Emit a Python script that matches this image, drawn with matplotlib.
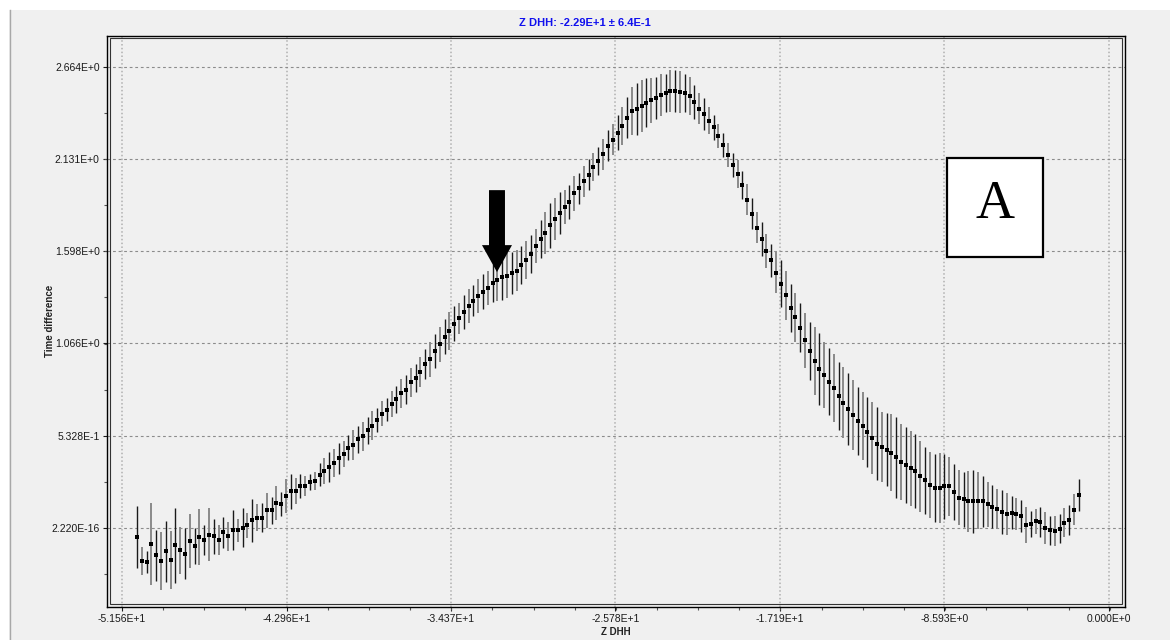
import numpy as np
import matplotlib
matplotlib.use('Agg')
import matplotlib.pyplot as plt
from matplotlib.patches import Rectangle
from matplotlib.lines import Line2D
from matplotlib.ticker import FixedLocator, AutoMinorLocator

plt.rcParams['font.family'] = ['Liberation Sans', 'DejaVu Sans']

# Z DHH sampling grid (regular steps between first and last point)
z_first, z_last, n_pts = -50.78, -1.57, 197
z = np.linspace(z_first, z_last, n_pts)

time_diff = [
    -0.052, -0.190, -0.196, -0.094, -0.158, -0.190, -0.135, -0.183, -0.100, -0.129,
    -0.148, -0.073, -0.104, -0.052, -0.069, -0.038, -0.048, -0.069, -0.025, -0.048,
    -0.012, -0.012, 0.002, 0.015, 0.046, 0.060, 0.060, 0.102, 0.102, 0.146,
    0.140, 0.183, 0.212, 0.215, 0.244, 0.244, 0.265, 0.273, 0.308, 0.331,
    0.354, 0.375, 0.402, 0.427, 0.464, 0.481, 0.512, 0.529, 0.564, 0.590,
    0.625, 0.660, 0.683, 0.719, 0.744, 0.779, 0.800, 0.841, 0.866, 0.902,
    0.946, 0.975, 1.023, 1.060,
    1.106, 1.137, 1.181, 1.212, 1.247, 1.283, 1.312, 1.339, 1.364, 1.387,
    1.416, 1.430, 1.449, 1.456, 1.474, 1.487, 1.518, 1.549, 1.583, 1.628,
    1.668, 1.703, 1.747, 1.785, 1.820, 1.853, 1.883, 1.932, 1.962, 2.001,
    2.041, 2.084, 2.120, 2.159, 2.207, 2.243, 2.282, 2.320, 2.370, 2.409,
    2.422, 2.439, 2.457, 2.470, 2.484, 2.501, 2.512, 2.522, 2.524, 2.518,
    2.510, 2.493, 2.460, 2.422, 2.391, 2.353, 2.313, 2.264, 2.212, 2.155,
    2.097, 2.045, 1.980, 1.895, 1.816, 1.733, 1.668,
    1.600, 1.545, 1.475, 1.412, 1.343, 1.273, 1.216, 1.157, 1.083,
    1.023, 0.966, 0.917, 0.883, 0.846, 0.808, 0.762, 0.723, 0.689, 0.652,
    0.619, 0.589, 0.552, 0.521, 0.487, 0.469, 0.452, 0.435, 0.408, 0.381,
    0.364, 0.346, 0.329, 0.298, 0.275, 0.250, 0.233, 0.229, 0.240, 0.240,
    0.208, 0.175, 0.165, 0.154, 0.154, 0.158, 0.154, 0.138, 0.123, 0.110,
    0.092, 0.083, 0.088, 0.083, 0.071, 0.017, 0.025, 0.040, 0.035, 0.002,
    -0.012, -0.017, -0.004, 0.031, 0.048, 0.106, 0.192,
]

time_err = [
    0.178, 0.081, 0.064, 0.236, 0.146, 0.168, 0.177, 0.167, 0.216, 0.138,
    0.147, 0.157, 0.106, 0.161, 0.089, 0.154, 0.100, 0.085, 0.089, 0.082,
    0.116, 0.067, 0.112, 0.072, 0.124, 0.079, 0.085, 0.100, 0.077, 0.098,
    0.071, 0.098, 0.102, 0.074, 0.068, 0.056, 0.045, 0.051, 0.066, 0.074,
    0.086, 0.080, 0.091, 0.077, 0.071, 0.087, 0.077, 0.084, 0.077, 0.084,
    0.069, 0.072, 0.067, 0.075, 0.077, 0.083, 0.082, 0.082, 0.082, 0.085,
    0.087, 0.101, 0.096, 0.100,
    0.10, 0.11, 0.10, 0.09, 0.10, 0.10, 0.09, 0.10, 0.10, 0.10,
    0.11, 0.12, 0.13, 0.13, 0.12, 0.12, 0.11, 0.11, 0.11, 0.10,
    0.11, 0.12, 0.13, 0.12, 0.12, 0.10, 0.10, 0.10, 0.09, 0.09,
    0.09, 0.08, 0.08, 0.09, 0.09, 0.09, 0.10, 0.11, 0.12, 0.14,
    0.15, 0.15, 0.14, 0.13, 0.12, 0.12, 0.11, 0.12, 0.12, 0.12,
    0.11, 0.11, 0.10, 0.09, 0.09, 0.08, 0.07, 0.07, 0.07, 0.07,
    0.07, 0.08, 0.08, 0.09, 0.09, 0.09,
    0.099, 0.096, 0.096, 0.120, 0.137, 0.144, 0.139, 0.139, 0.141, 0.160,
    0.168, 0.195, 0.207, 0.191, 0.192, 0.195, 0.195, 0.205, 0.209, 0.204,
    0.195, 0.194, 0.202, 0.207, 0.210, 0.202, 0.212, 0.221, 0.236, 0.221,
    0.217, 0.216, 0.213, 0.207, 0.193, 0.192, 0.197, 0.202, 0.190, 0.168,
    0.163, 0.159, 0.159, 0.178, 0.181, 0.163, 0.149, 0.130, 0.125, 0.115,
    0.125, 0.122, 0.096, 0.092, 0.093, 0.104, 0.075, 0.072, 0.085, 0.093,
    0.084, 0.087, 0.085, 0.084, 0.087, 0.091, 0.093,
]

x_ticks = [-51.56, -42.96, -34.37, -25.78, -17.19, -8.593, 0.0]
x_labels = ['-5.156E+1', '-4.296E+1', '-3.437E+1', '-2.578E+1', '-1.719E+1', '-8.593E+0', '0.000E+0']
y_ticks = [0.0, 0.5328, 1.066, 1.598, 2.131, 2.664]
y_labels = ['2.220E-16', '5.328E-1', '1.066E+0', '1.598E+0', '2.131E+0', '2.664E+0']

title = 'Z DHH: -2.29E+1 \u00b1 6.4E-1'
marker_z, marker_top, marker_tip = -31.97, 1.951, 1.478

W, H = 1170, 640
fig = plt.figure(figsize=(W / 100, H / 100), dpi=100)
fig.patch.set_facecolor('white')
fig.patches.append(Rectangle((9 / W, 0), 1 - 9 / W, 1 - 10 / H, transform=fig.transFigure,
                             facecolor='#f0f0f0', edgecolor='none', zorder=-10))
fig.lines.append(Line2D([9.5 / W, 9.5 / W], [0, 1 - 10 / H], transform=fig.transFigure,
                        color='#a8a8a8', lw=1))

ax_l, ax_r, ax_t, ax_b = 106.7, 1125, 36, 606.7
ax = fig.add_axes([ax_l / W, 1 - ax_b / H, (ax_r - ax_l) / W, (ax_b - ax_t) / H])
ax.set_facecolor('#f0f0f0')

z_arr = np.asarray(z)
y_arr = np.asarray(time_diff)
e_arr = np.asarray(time_err)
even = np.arange(len(z_arr)) % 2 == 0
ax.errorbar(z_arr[even], y_arr[even], yerr=e_arr[even], fmt='none', ecolor='#1a1a1a', elinewidth=1.0, capsize=0, zorder=2)
ax.errorbar(z_arr[~even], y_arr[~even], yerr=e_arr[~even], fmt='none', ecolor='#8a8a8a', elinewidth=1.4, capsize=0, zorder=2)
ax.plot(z_arr, y_arr, 's', color='black', ms=3.5, mew=0, zorder=3)

ax.set_xlim(-52.36, 0.84)
ax.set_ylim(-0.454, 2.841)
ax.xaxis.set_major_locator(FixedLocator(x_ticks))
ax.set_xticklabels(x_labels)
ax.yaxis.set_major_locator(FixedLocator(y_ticks))
ax.set_yticklabels(y_labels)
ax.xaxis.set_minor_locator(AutoMinorLocator(4))
ax.yaxis.set_minor_locator(AutoMinorLocator(2))
ax.tick_params(which='major', length=3, width=0.8, pad=2, labelsize=7.5, colors='#1a1a1a')
ax.tick_params(which='minor', length=2, width=0.8, colors='#555555')

ax.xaxis.grid(True, color='#b0b0b0', lw=1.1, ls=(0, (1, 1.5)))
ax.yaxis.grid(True, color='#8c8c8c', lw=0.8, ls=(0, (2.5, 2.5)))
ax.set_axisbelow(True)
for s in ax.spines.values():
    s.set_color('black')
    s.set_linewidth(1.0)
ax.add_patch(Rectangle((0.003, 0.004), 0.994, 0.992, transform=ax.transAxes, fill=False,
                       edgecolor='#333333', lw=0.8, zorder=5, clip_on=False))

fig.text(0.5, 1 - 22.7 / H, title, color='#1010ee', fontsize=8, fontweight='bold', ha='center', va='center')
fig.text((ax_l + ax_r) / 2 / W, 1 - 632 / H, 'Z DHH', fontsize=7, fontweight='bold', ha='center', va='center', color='#222222')
fig.text(50 / W, 1 - 321 / H, 'Time difference', fontsize=7, fontweight='bold', rotation=90,
         ha='center', va='center', color='#222222')

# arrow marking the shoulder
ax.annotate('', xy=(marker_z, marker_tip), xytext=(marker_z, marker_top),
            arrowprops=dict(arrowstyle='simple,head_width=2.16,head_length=1.94,tail_width=1.15',
                            fc='black', ec='black', lw=0, shrinkA=0, shrinkB=0, mutation_scale=10),
            zorder=6)

# panel letter box
ax.add_patch(Rectangle((0.8249, 0.6128), 0.0943, 0.174, transform=ax.transAxes,
                       facecolor='white', edgecolor='black', lw=1.6, zorder=6))
ax.text(0.8723, 0.6816, 'A', transform=ax.transAxes, ha='center', va='baseline',
        fontsize=39, family='Liberation Serif', zorder=7)

fig.savefig('out.png', dpi=100)
